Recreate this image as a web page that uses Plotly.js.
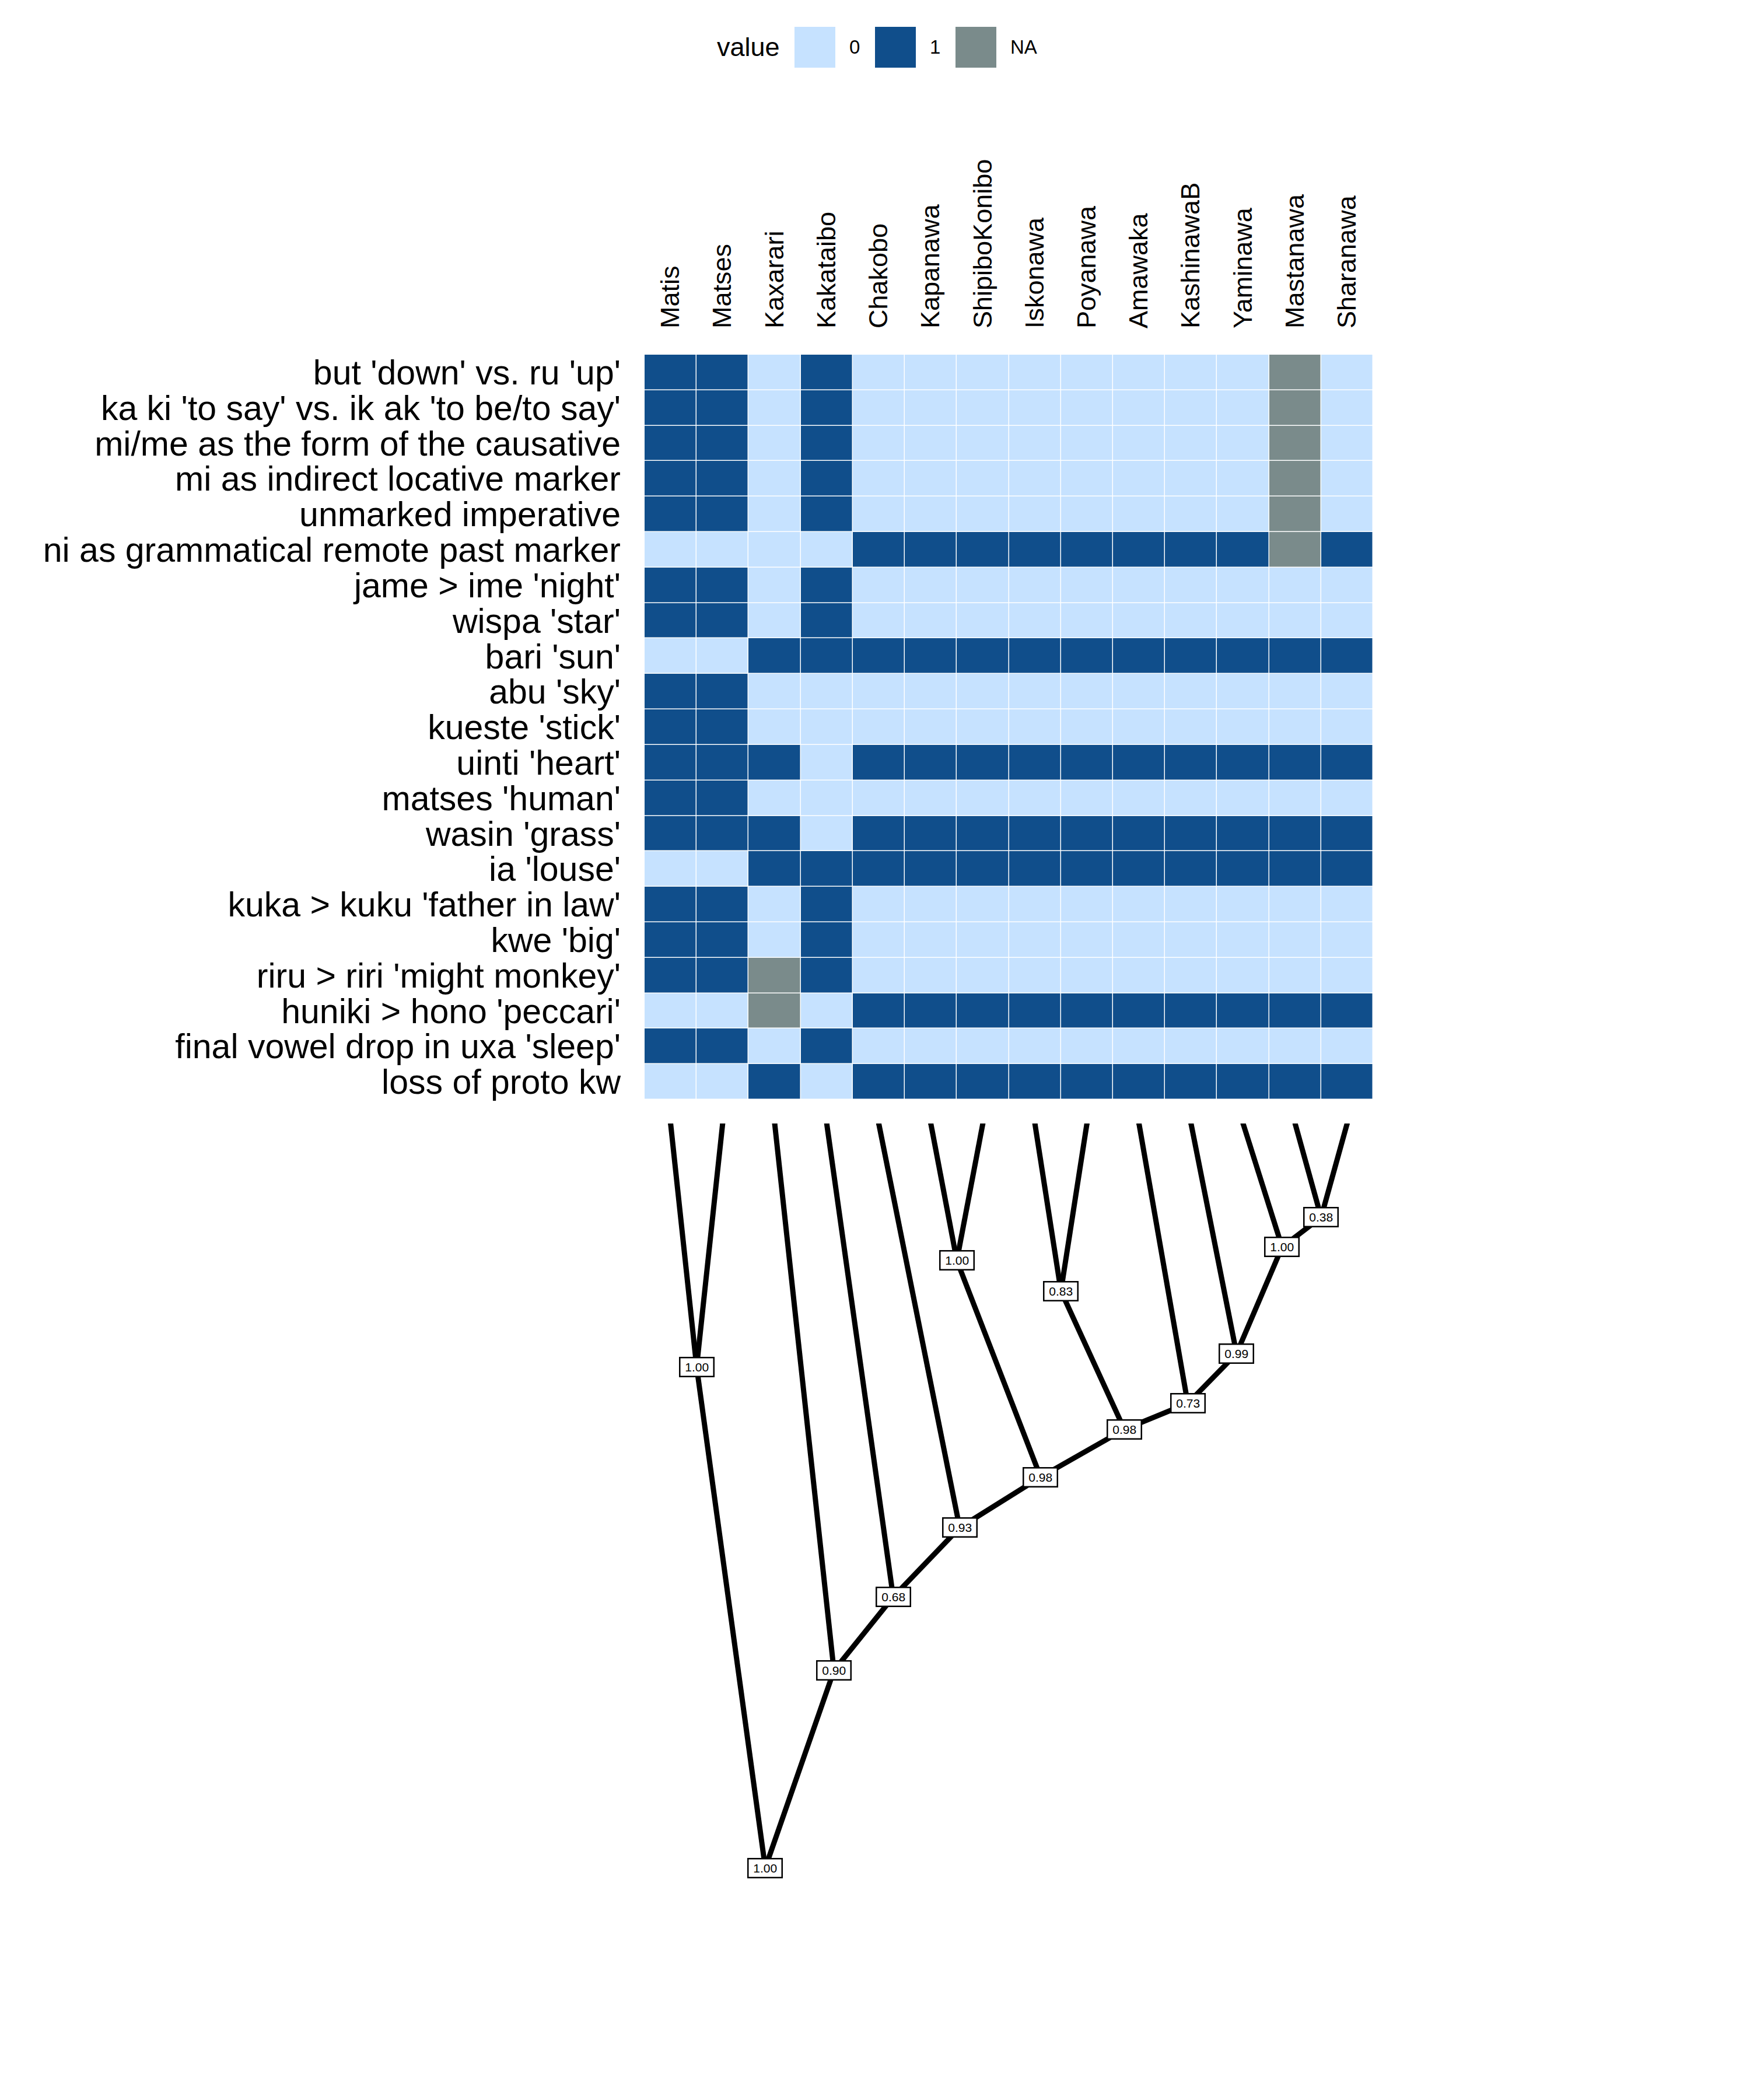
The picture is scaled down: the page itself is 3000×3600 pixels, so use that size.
<!DOCTYPE html>
<html>
<head>
<meta charset="utf-8">
<script src="https://cdn.plot.ly/plotly-3.0.1.min.js"></script>
<style>html,body{margin:0;padding:0;background:#fff;}</style>
</head>
<body>
<div id="chart" style="width:3000px;height:3600px;"></div>
<script>
// ---------------- DATA ----------------
const languages = ['Matis','Matses','Kaxarari','Kakataibo','Chakobo','Kapanawa','ShipiboKonibo',
  'Iskonawa','Poyanawa','Amawaka','KashinawaB','Yaminawa','Mastanawa','Sharanawa'];

const features = ["but 'down' vs. ru 'up'", "ka ki 'to say' vs. ik ak 'to be/to say'",
  "mi/me as the form of the causative", "mi as indirect locative marker", "unmarked imperative",
  "ni as grammatical remote past marker", "jame > ime 'night'", "wispa 'star'", "bari 'sun'",
  "abu 'sky'", "kueste 'stick'", "uinti 'heart'", "matses 'human'", "wasin 'grass'", "ia 'louse'",
  "kuka > kuku 'father in law'", "kwe 'big'", "riru > riri 'might monkey'", "huniki > hono 'peccari'",
  "final vowel drop in uxa 'sleep'", "loss of proto kw"];

// one row per feature, columns in the order of `languages`; null = NA
const presence = [
  [1,1,0,1,0,0,0,0,0,0,0,0,null,0],
  [1,1,0,1,0,0,0,0,0,0,0,0,null,0],
  [1,1,0,1,0,0,0,0,0,0,0,0,null,0],
  [1,1,0,1,0,0,0,0,0,0,0,0,null,0],
  [1,1,0,1,0,0,0,0,0,0,0,0,null,0],
  [0,0,0,0,1,1,1,1,1,1,1,1,null,1],
  [1,1,0,1,0,0,0,0,0,0,0,0,0,0],
  [1,1,0,1,0,0,0,0,0,0,0,0,0,0],
  [0,0,1,1,1,1,1,1,1,1,1,1,1,1],
  [1,1,0,0,0,0,0,0,0,0,0,0,0,0],
  [1,1,0,0,0,0,0,0,0,0,0,0,0,0],
  [1,1,1,0,1,1,1,1,1,1,1,1,1,1],
  [1,1,0,0,0,0,0,0,0,0,0,0,0,0],
  [1,1,1,0,1,1,1,1,1,1,1,1,1,1],
  [0,0,1,1,1,1,1,1,1,1,1,1,1,1],
  [1,1,0,1,0,0,0,0,0,0,0,0,0,0],
  [1,1,0,1,0,0,0,0,0,0,0,0,0,0],
  [1,1,null,1,0,0,0,0,0,0,0,0,0,0],
  [0,0,null,0,1,1,1,1,1,1,1,1,1,1],
  [1,1,0,1,0,0,0,0,0,0,0,0,0,0],
  [0,0,1,0,1,1,1,1,1,1,1,1,1,1]
];

const legendValues = ['0','1','NA'];
const legendColors = ['#C6E2FF','#104E8B','#7A8B8B'];

// tree (internal nodes): id, children, depth from root (tips at 1), support
const nodeIds      = ['A','B','C','D','E','F','G','H','I','J','K','L','R'];
const nodeChildren = [
  ['Matis','Matses'], ['Mastanawa','Sharanawa'], ['Yaminawa','B'], ['KashinawaB','C'],
  ['Amawaka','D'], ['Iskonawa','Poyanawa'], ['F','E'], ['Kapanawa','ShipiboKonibo'],
  ['H','G'], ['Chakobo','I'], ['Kakataibo','J'], ['Kaxarari','K'], ['A','L']
];
const nodeDepth    = [0.673,0.874,0.834,0.691,0.624,0.775,0.589,0.816,0.525,0.457,0.364,0.265,0];
const nodeSupport  = ['1.00','0.38','1.00','0.99','0.73','0.83','0.98','1.00','0.98','0.93','0.68','0.90','1.00'];
const tipDepth = 1;

// ---------------- BUILD ----------------
const FONT = 'Liberation Sans, Arial, Helvetica, sans-serif';
const W = 3000, H = 3600;
const px = v => v / W, py = v => 1 - v / H;

// heatmap codes: 0,1, NA->2
const zCodes = presence.map(r => r.map(v => v === null ? 2 : v));
const xIdx = languages.map((_, i) => i);
const yIdx = features.map((_, i) => i);

const heat = {
  type: 'heatmap', x: xIdx, y: yIdx, z: zCodes,
  zmin: 0, zmax: 2, showscale: false, xgap: 1.5, ygap: 1.5,
  colorscale: [[0, legendColors[0]], [1/3, legendColors[0]], [1/3, legendColors[1]],
               [2/3, legendColors[1]], [2/3, legendColors[2]], [1, legendColors[2]]],
  hoverinfo: 'skip', xaxis: 'x', yaxis: 'y'
};

// tree positions
const pos = {};
languages.forEach((l, i) => { pos[l] = {x: i, y: tipDepth}; });
function nodePos(id) {
  if (pos[id]) return pos[id];
  const k = nodeIds.indexOf(id);
  const ch = nodeChildren[k].map(nodePos);
  pos[id] = {x: ch.reduce((s, c) => s + c.x, 0) / ch.length, y: nodeDepth[k]};
  return pos[id];
}
nodeIds.forEach(nodePos);

const ex = [], ey = [];
nodeIds.forEach((id, k) => {
  nodeChildren[k].forEach(c => {
    ex.push(pos[c].x, pos[id].x, null);
    ey.push(pos[c].y, pos[id].y, null);
  });
});
const edges = {
  type: 'scatter', mode: 'lines', x: ex, y: ey, xaxis: 'x2', yaxis: 'y2',
  line: {color: '#000', width: 9}, hoverinfo: 'skip', showlegend: false
};
const tips = {
  type: 'scatter', mode: 'markers', x: languages.map(l => pos[l].x), y: languages.map(l => pos[l].y),
  xaxis: 'x2', yaxis: 'y2', marker: {color: '#000', size: 9}, hoverinfo: 'skip', showlegend: false
};

const annotations = nodeIds.map((id, k) => ({
  xref: 'x2', yref: 'y2', x: pos[id].x, y: pos[id].y, text: '\u2009' + nodeSupport[k] + '\u2009', showarrow: false,
  font: {family: FONT, size: 21, color: '#000'}, bgcolor: '#fff', bordercolor: '#000',
  borderwidth: 2.5, borderpad: 3.5
}));

// legend (manual, ggplot style)
const keyLeft = [1362, 1500, 1638], keySize = 70, keyTop = 46;
const shapes = [];
annotations.push({xref: 'paper', yref: 'paper', x: px(1283), y: py(keyTop + keySize/2),
  text: 'value', showarrow: false, xanchor: 'center', yanchor: 'middle',
  font: {family: FONT, size: 45, color: '#000'}});
legendValues.forEach((v, i) => {
  shapes.push({type: 'rect', xref: 'paper', yref: 'paper', x0: px(keyLeft[i]), x1: px(keyLeft[i] + keySize),
    y0: py(keyTop + keySize), y1: py(keyTop), fillcolor: legendColors[i], line: {width: 0}});
  annotations.push({xref: 'paper', yref: 'paper', x: px(keyLeft[i] + keySize + 22), y: py(keyTop + keySize/2),
    text: v, showarrow: false, xanchor: 'left', yanchor: 'middle',
    font: {family: FONT, size: 33, color: '#000'}});
});

const xDom = [px(1105), px(2354)];
const layout = {
  width: W, height: H, margin: {l: 0, r: 0, t: 0, b: 0},
  paper_bgcolor: '#fff', plot_bgcolor: '#fff', showlegend: false,
  font: {family: FONT, color: '#000'},
  xaxis: {domain: xDom, range: [-0.5, 13.5], side: 'top', tickangle: -90,
    tickvals: xIdx, ticktext: languages, tickfont: {family: FONT, size: 45, color: '#000'},
    ticks: '', showgrid: false, zeroline: false, showline: false, ticklabelstandoff: 44, fixedrange: true},
  yaxis: {domain: [py(1885), py(608)], range: [features.length - 0.5, -0.5],
    tickvals: yIdx, ticktext: features, tickfont: {family: FONT, size: 59, color: '#000'},
    ticks: '', showgrid: false, zeroline: false, showline: false, ticklabelstandoff: 40, fixedrange: true},
  xaxis2: {domain: xDom, range: [-0.5, 13.5], anchor: 'y2', visible: false, fixedrange: true},
  yaxis2: {domain: [py(3202), py(1926)], range: [0, 1], anchor: 'x2', visible: false, fixedrange: true},
  annotations: annotations, shapes: shapes
};

Plotly.newPlot('chart', [heat, edges, tips], layout, {staticPlot: true, displayModeBar: false});
</script>
</body>
</html>
